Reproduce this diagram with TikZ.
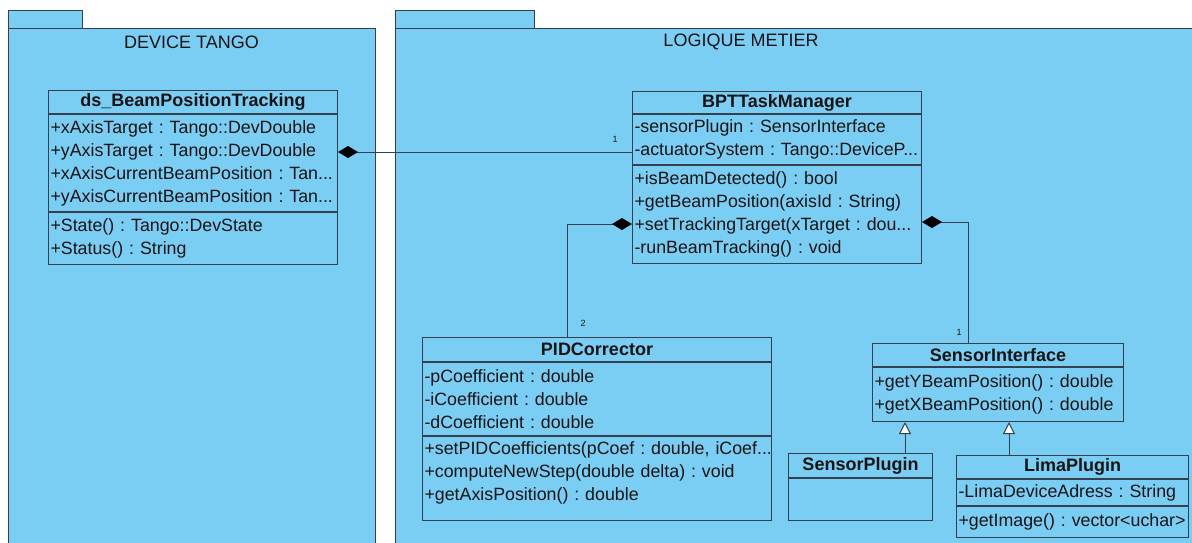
\documentclass[tikz,border=0pt]{standalone}
\usepackage{fontspec}
\setmainfont{Liberation Sans}
\usetikzlibrary{arrows.meta}
\frenchspacing

\definecolor{umlblue}{RGB}{122,206,244}
\definecolor{umlline}{RGB}{52,64,78}
\definecolor{umltext}{RGB}{20,20,20}

\newcommand{\umlfont}{\fontsize{17.8}{23}\selectfont}
\newcommand{\headfont}{\fontsize{18}{23}\selectfont\bfseries}
\newcommand{\pkgfont}{\fontsize{18}{20}\selectfont}
\newcommand{\multfont}{\fontsize{9}{10}\selectfont}

\tikzset{
    package/.style={draw=umlline, fill=umlblue, line width=1pt},
    pkgtitle/.style={font=\pkgfont, text=umltext},
    classhead/.style={draw=umlline, fill=umlblue, line width=1pt, anchor=north west,
        inner sep=0pt, text=umltext, font=\headfont},
    classpart/.style={draw=umlline, fill=umlblue, line width=1pt, anchor=north west,
        inner xsep=2pt, inner ysep=0pt, align=left, text=umltext, font=\umlfont},
    compose/.style={draw=umlline, line width=1pt,
        {Diamond[length=20pt,width=12pt,color=black]}-},
    inherit/.style={draw=umlline, line width=1pt,
        -{Triangle[length=12pt,width=12pt,fill=white]}},
    mult/.style={font=\multfont, text=umltext, inner sep=0pt}
}

\begin{document}
\begin{tikzpicture}[x=1pt,y=-1pt]
    \useasboundingbox (0,0) rectangle (1192,542);
    \clip (0,0) rectangle (1192,542);
    \fill[white] (0,0) rectangle (1192,542);

    % packages
    \draw[package] (8,10) rectangle (82,28);
    \draw[package] (8,28) rectangle (375,560);
    \node[pkgtitle] (devtango) at (191.5,42) {DEVICE TANGO};

    \draw[package] (395,10) rectangle (534,28);
    \draw[package] (395,28) rectangle (1200,560);
    \node[pkgtitle] (logique) at (741,42) {LOGIQUE METIER};

    % ds_BeamPositionTracking
    \node[classhead, minimum width=289pt, minimum height=23pt] (dshead) at (48,90) {ds\_BeamPositionTracking};
    \node[classpart, text width=285pt, minimum height=97pt] (dsattr) at (dshead.south west)
        {+xAxisTarget : Tango::DevDouble\\+yAxisTarget : Tango::DevDouble\\+xAxisCurrentBeamPosition : Tan...\\+yAxisCurrentBeamPosition : Tan...};
    \node[classpart, text width=285pt, minimum height=52pt] (dsmeth) at (dsattr.south west)
        {+State() : Tango::DevState\\+Status() : String};

    % BPTTaskManager
    \node[classhead, minimum width=289pt, minimum height=22pt] (bpthead) at (632,91) {BPTTaskManager};
    \node[classpart, text width=285pt, minimum height=50pt] (bptattr) at (bpthead.south west)
        {-sensorPlugin : SensorInterface\\-actuatorSystem : Tango::DeviceP...};
    \node[classpart, text width=285pt, minimum height=98pt] (bptmeth) at (bptattr.south west)
        {+isBeamDetected() : bool\\+getBeamPosition(axisId : String)\\+setTrackingTarget(xTarget : dou...\\-runBeamTracking() : void};

    % PIDCorrector
    \node[classhead, minimum width=349pt, minimum height=24pt] (pidhead) at (422,337) {PIDCorrector};
    \node[classpart, text width=345pt, minimum height=73pt] (pidattr) at (pidhead.south west)
        {-pCoefficient : double\\-iCoefficient : double\\-dCoefficient : double};
    \node[classpart, text width=345pt, minimum height=84pt] (pidmeth) at (pidattr.south west)
        {\mbox{+setPIDCoefficients(pCoef : double, iCoef...}\\+computeNewStep(double delta) : void\\+getAxisPosition() : double\\[-9pt]\mbox{}};

    % SensorInterface
    \node[classhead, minimum width=251pt, minimum height=23pt] (sihead) at (872,343) {SensorInterface};
    \node[classpart, text width=247pt, minimum height=54pt] (simeth) at (sihead.south west)
        {+getYBeamPosition() : double\\+getXBeamPosition() : double};

    % SensorPlugin
    \node[classhead, minimum width=144pt, minimum height=24pt] (sphead) at (788,453) {SensorPlugin};
    \node[classpart, text width=140pt, minimum height=42pt] (spbody) at (sphead.south west) {};

    % LimaPlugin
    \node[classhead, minimum width=232pt, minimum height=23pt] (lphead) at (956,455) {LimaPlugin};
    \node[classpart, text width=228pt, minimum height=26pt] (lpattr) at (lphead.south west)
        {-LimaDeviceAdress : String};
    \node[classpart, text width=228pt, minimum height=31pt] (lpmeth) at (lpattr.south west)
        {+getImage() : vector<uchar>};

    % compositions
    \draw[compose] ([yshift=-38pt]dsattr.north east) -- ([yshift=-38pt]bptattr.north west)
        node[mult, pos=1, xshift=-17pt, yshift=13pt] {1};
    \draw[compose] ([yshift=-59pt]bptmeth.north west) -| ([xshift=145pt]pidhead.north west)
        node[mult, pos=1, xshift=16pt, yshift=14pt] {2};
    \draw[compose] ([yshift=-57pt]bptmeth.north east) -| ([xshift=96pt]sihead.north west)
        node[mult, pos=1, xshift=-9pt, yshift=11pt] {1};

    % generalisations
    \coordinate (spup) at ([xshift=117pt]sphead.north west);
    \coordinate (lpup) at ([xshift=53pt]lphead.north west);
    \draw[inherit] (spup) -- (spup |- simeth.south);
    \draw[inherit] (lpup) -- (lpup |- simeth.south);
\end{tikzpicture}
\end{document}
